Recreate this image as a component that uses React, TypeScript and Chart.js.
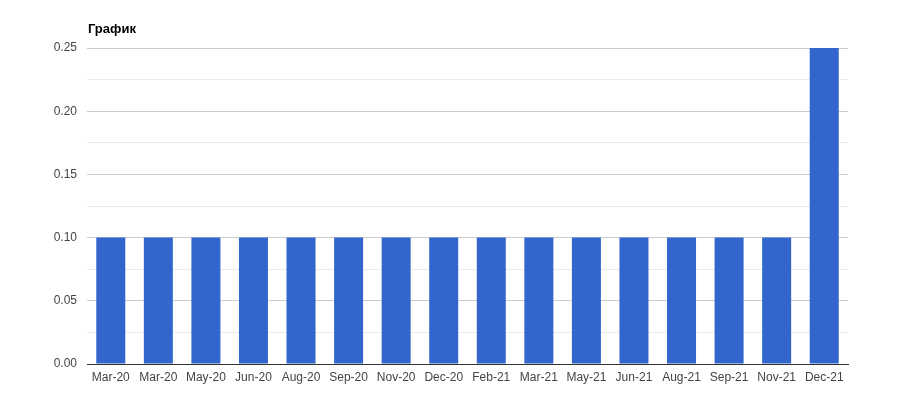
import React, { useEffect, useRef } from "react";
import { Chart, registerables } from "chart.js";

Chart.register(...registerables);

const categories = [
  "Mar-20", "Mar-20", "May-20", "Jun-20", "Aug-20", "Sep-20", "Nov-20", "Dec-20",
  "Feb-21", "Mar-21", "May-21", "Jun-21", "Aug-21", "Sep-21", "Nov-21", "Dec-21",
];
const values = [
  0.1, 0.1, 0.1, 0.1, 0.1, 0.1, 0.1, 0.1,
  0.1, 0.1, 0.1, 0.1, 0.1, 0.1, 0.1, 0.25,
];
const titleText = "График";

const titlePlugin = {
  id: "leftTitle",
  afterDraw(chart: any) {
    const ctx = chart.ctx;
    ctx.save();
    ctx.font = "bold 13px Arial, 'Liberation Sans', sans-serif";
    ctx.fillStyle = "#000000";
    ctx.textAlign = "left";
    ctx.textBaseline = "alphabetic";
    ctx.fillText(titleText, 88, 33);
    ctx.restore();
  },
};

export default function App() {
  const ref = useRef<HTMLCanvasElement | null>(null);
  useEffect(() => {
    if (!ref.current) return;
    const chart = new Chart(ref.current, {
      type: "bar",
      data: {
        labels: categories,
        datasets: [
          {
            data: values,
            backgroundColor: "#3366cc",
            borderWidth: 0,
            categoryPercentage: 1,
            barPercentage: 0.61,
          },
        ],
      },
      options: {
        animation: false,
        responsive: false,
        maintainAspectRatio: false,
        layout: { padding: { left: 0, right: 52, top: 48, bottom: 0 } },
        plugins: { legend: { display: false }, tooltip: { enabled: false } },
        scales: {
          x: {
            grid: { display: false, drawTicks: false },
            border: { display: true, color: "#333333", width: 1 },
            ticks: {
              color: "#444444",
              font: { family: "Arial, 'Liberation Sans', sans-serif", size: 12 },
              padding: 6,
              autoSkip: false,
              maxRotation: 0,
            },
            afterFit(scale: any) {
              scale.height = 34;
            },
          },
          y: {
            min: 0,
            max: 0.25,
            border: { display: false },
            grid: {
              drawTicks: false,
              color: (c: any) => {
                const v = Math.round((c.tick?.value ?? 0) * 1000);
                if (v === 0) return "#333333";
                return v % 50 === 0 ? "#cccccc" : "#ebebeb";
              },
            },
            ticks: {
              stepSize: 0.025,
              autoSkip: false,
              color: "#444444",
              font: { family: "Arial, 'Liberation Sans', sans-serif", size: 12 },
              padding: 10,
              callback: (v: any) => {
                const m = Math.round(Number(v) * 1000);
                return m % 50 === 0 ? (m / 1000).toFixed(2) : "";
              },
            },
            afterFit(scale: any) {
              scale.width = 87;
            },
          },
        },
      },
      plugins: [titlePlugin],
    });
    return () => chart.destroy();
  }, []);
  return (
    <div style={{ position: "fixed", left: 0, top: 0, width: 900, height: 398, background: "#ffffff" }}>
      <canvas ref={ref} width={900} height={398} style={{ display: "block", width: 900, height: 398 }} />
    </div>
  );
}
